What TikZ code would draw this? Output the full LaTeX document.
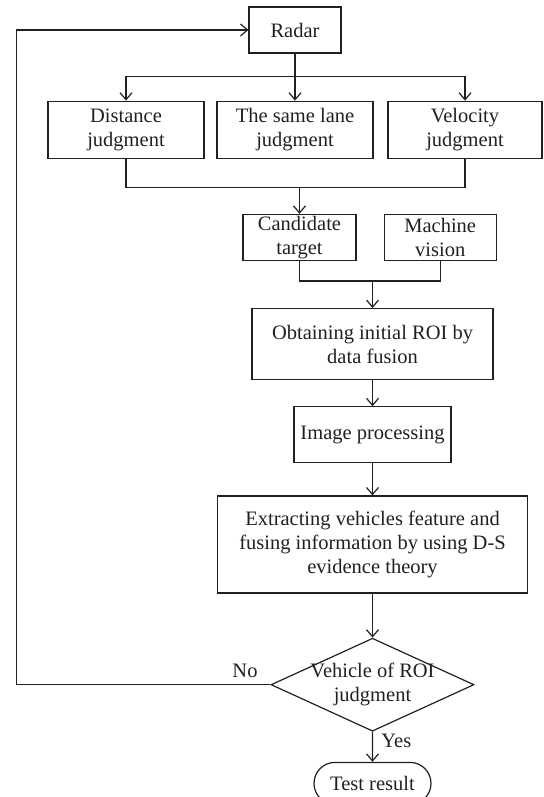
\documentclass[tikz,border=0pt]{standalone}
\usepackage{fontspec}
\setmainfont{Liberation Serif}
\usepackage{tikz}
\usetikzlibrary{positioning,shapes.geometric,shapes.misc,arrows.meta}
\definecolor{ink}{RGB}{35,31,32}

\tikzset{
	proc/.style={draw=ink, text=ink, align=center, inner sep=1pt,
		font=\fontsize{20.5}{24}\selectfont},
	decide/.style={proc, diamond, aspect=2.18, inner sep=-5pt,
		minimum width=203pt, minimum height=93pt},
	terminal/.style={proc, rounded rectangle, minimum width=119pt, minimum height=42pt},
	lbl/.style={text=ink, font=\fontsize{20.5}{24}\selectfont},
	arr/.style={-{Straight Barb[length=7pt,width=12pt]}},
}

\begin{document}
\begin{tikzpicture}[x=1pt, y=1pt, line width=1.2pt, draw=ink]
	\useasboundingbox (0,0) rectangle (543,-797);
	% Define nodes
	\node[proc, minimum width=92pt, minimum height=46pt] (radar) at (295,-30) {Radar};
	\node[proc, minimum width=156pt, minimum height=57pt, below=47pt of radar, xshift=-169pt] (dist) {Distance\\judgment};
	\node[proc, minimum width=156pt, minimum height=57pt, below=47pt of radar] (lane) {The same lane\\judgment};
	\node[proc, minimum width=154pt, minimum height=57pt, below=47pt of radar, xshift=170pt] (velo) {Velocity\\judgment};

	\node[proc, minimum width=113pt, minimum height=46pt, below=55pt of lane, xshift=4.5pt] (cand) {Candidate\\target};
	\node[proc, minimum width=112pt, minimum height=46pt, right=27pt of cand] (mach) {Machine\\vision};

	\node[proc, minimum width=241pt, minimum height=71pt, below=47pt of cand, xshift=73pt] (fuse) {Obtaining initial ROI by\\data fusion};
	\node[proc, minimum width=157pt, minimum height=56pt, below=26pt of fuse] (imgp) {Image processing};
	\node[proc, minimum width=310pt, minimum height=97pt, below=32pt of imgp] (extr) {Extracting vehicles feature and\\fusing information by using D-S\\evidence theory};
	\node[decide, below=44pt of extr] (roi) {Vehicle of ROI\\judgment};
	\node[terminal, below=30pt of roi] (test) {Test result};

	% Junctions
	\coordinate[below=23pt of radar] (split);
	\coordinate[above=26pt of cand] (join1);
	\coordinate[above=27pt of fuse] (join2);
	\coordinate[left=254pt of roi.west] (back);

	% Edges
	\draw (radar) -- (split);
	\draw[arr] (split) -| (dist.north);
	\draw[arr] (split) -- (lane);
	\draw[arr] (split) -| (velo.north);
	\draw (dist.south) |- (join1) -| (velo.south);
	\draw[arr] (join1) -- (cand);
	\draw (cand.south) |- (join2) -| (mach.south);
	\draw[arr] (join2) -- (fuse);
	\draw[arr] (fuse) -- (imgp);
	\draw[arr] (imgp) -- (extr);
	\draw[arr] (extr) -- (roi);
	\draw[arr] (roi) -- node[lbl, right=5pt, pos=0.3] {Yes} (test);
	% Feedback loop
	\draw[arr] (roi.west) -- node[lbl, above=3pt, pos=0.1] {No} (back) |- (radar.west);
\end{tikzpicture}
\end{document}
